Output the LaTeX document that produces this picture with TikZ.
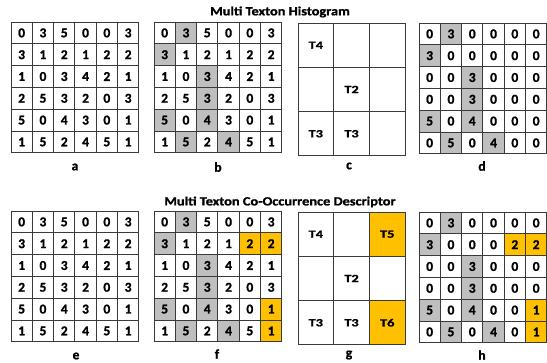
\documentclass[tikz,border=0pt]{standalone}
\usepackage{fontspec}
\setmainfont{Carlito}[BoldFont={Carlito Bold}]
\newfontfamily\cbold{Carlito Bold}[FakeBold=1.2]
\definecolor{gridline}{HTML}{3A3A3A}
\definecolor{shadegray}{HTML}{BFBFBF}
\definecolor{shadeorange}{HTML}{FFC000}
\def\cw{21.3}
\def\ch{21.8}
\def\tw{35.7}
\def\th{44.3}
\newcommand\numgrid[4]{%
  \foreach \row [count=\r from 0] in {#4}{%
    \foreach \v [count=\c from 0] in \row {%
      \node[cell] (#1-\r-\c) at ({#2+(\c+0.5)*\cw},{#3+(\r+0.5)*\ch}) {\v};
    }}}
\newcommand\cellshade[4]{%
  \foreach \r/\c in #4 \fill[#1] ({#2+\c*\cw},{#3+\r*\ch}) rectangle ++(\cw,\ch);}
\newcommand\tgrid[4]{%
  \foreach \r in {0,1,2}{\foreach \c in {0,1,2}{%
    \node[tcell] (#1-\r-\c) at ({#2+(\c+0.5)*\tw},{#3+(\r+0.5)*\th}) {};}}
  \foreach \r/\c/\t in {#4} \node[tlabel] at (#1-\r-\c) {\t};}
\begin{document}
\begin{tikzpicture}[x=1pt,y=-1pt,
  cell/.style={draw=gridline,line width=0.9pt,minimum width=\cw pt,minimum height=\ch pt,inner sep=0pt,
    font=\cbold\fontsize{13.5}{15}\selectfont},
  tcell/.style={draw=gridline,line width=0.9pt,minimum width=\tw pt,minimum height=\th pt,inner sep=0pt},
  tlabel/.style={font=\cbold\fontsize{11}{13}\selectfont,xscale=1.3},
  caption/.style={font=\cbold\fontsize{13.5}{15}\selectfont},
  title/.style={font=\cbold\fontsize{12.5}{14}\selectfont,xscale=1.15}]
\useasboundingbox (0,0) rectangle (547,362);
% titles
\node[title] (t1) at (280,12) {Multi Texton Histogram};
\node[title] (t2) at (280,202) {Multi Texton Co-Occurrence Descriptor};
% shading
\def\grayset{0/1,1/0,2/2,3/2,4/0,4/2,5/1,5/3}
\def\orangeset{1/4,1/5,4/5,5/5}
\cellshade{shadegray}{154}{22}{\grayset}
\cellshade{shadegray}{419}{23}{\grayset}
\cellshade{shadegray}{154}{211}{\grayset}
\cellshade{shadeorange}{154}{211}{\orangeset}
\cellshade{shadegray}{419}{212}{\grayset}
\cellshade{shadeorange}{419}{212}{\orangeset}
\fill[shadeorange] (298+2*\tw,212) rectangle ++(\tw,\th);
\fill[shadeorange] (298+2*\tw,212+2*\th) rectangle ++(\tw,\th);
% grids
\numgrid{a}{11}{22}{{0,3,5,0,0,3},{3,1,2,1,2,2},{1,0,3,4,2,1},{2,5,3,2,0,3},{5,0,4,3,0,1},{1,5,2,4,5,1}}
\numgrid{b}{154}{22}{{0,3,5,0,0,3},{3,1,2,1,2,2},{1,0,3,4,2,1},{2,5,3,2,0,3},{5,0,4,3,0,1},{1,5,2,4,5,1}}
\tgrid{c}{298}{23}{0/0/T4,1/1/T2,2/0/T3,2/1/T3}
\numgrid{d}{419}{23}{{0,3,0,0,0,0},{3,0,0,0,0,0},{0,0,3,0,0,0},{0,0,3,0,0,0},{5,0,4,0,0,0},{0,5,0,4,0,0}}
\numgrid{e}{11}{211}{{0,3,5,0,0,3},{3,1,2,1,2,2},{1,0,3,4,2,1},{2,5,3,2,0,3},{5,0,4,3,0,1},{1,5,2,4,5,1}}
\numgrid{f}{154}{211}{{0,3,5,0,0,3},{3,1,2,1,2,2},{1,0,3,4,2,1},{2,5,3,2,0,3},{5,0,4,3,0,1},{1,5,2,4,5,1}}
\tgrid{g}{298}{212}{0/0/T4,0/2/T5,1/1/T2,2/0/T3,2/1/T3,2/2/T6}
\numgrid{h}{419}{212}{{0,3,0,0,0,0},{3,0,0,0,2,2},{0,0,3,0,0,0},{0,0,3,0,0,0},{5,0,4,0,0,1},{0,5,0,4,0,1}}
% captions
\node[caption] (la) at (75,167) {a};
\node[caption] (lb) at (218,167) {b};
\node[caption] (lc) at (349,166) {c};
\node[caption] (ld) at (482,166) {d};
\node[caption] (le) at (76,356) {e};
\node[caption] (lf) at (217,354) {f};
\node[caption] (lg) at (349,355) {g};
\node[caption] (lh) at (482,355) {h};
\end{tikzpicture}
\end{document}
